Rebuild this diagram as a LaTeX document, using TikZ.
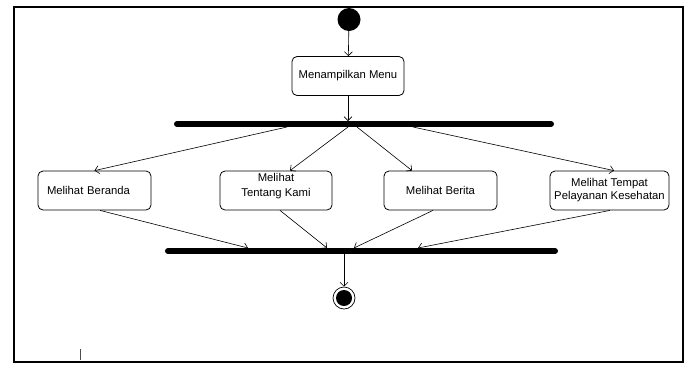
\documentclass[tikz,border=0pt]{standalone}
\usepackage{fontspec}
\setmainfont{Liberation Sans}
\usetikzlibrary{arrows.meta}
\begin{document}
\begin{tikzpicture}[x=1pt,y=-1pt,
  font=\fontsize{11.3}{14}\selectfont,
  actbox/.style={draw, line width=0.8pt, rounded corners=5pt, minimum height=39pt, inner sep=0pt},
  flow/.style={line width=0.6pt, -{Straight Barb[length=4pt,width=8pt]}},
  syncbar/.style={line width=6pt, line cap=round},
  startdot/.style={circle, fill=black, minimum size=23pt, inner sep=0pt},
  enddot/.style={circle, draw, line width=0.7pt, minimum size=22pt, inner sep=0pt,
    path picture={\fill (path picture bounding box.center) circle (8pt);}}
]
\useasboundingbox (0,0) rectangle (688,368);
% outer frame
\draw[line width=2pt] (14,7) rectangle (683,362);

% initial and final states
\node[startdot] (start) at (349,19.5) {};
\node[enddot] (finish) at (344,298) {};

% actions
\node[actbox, minimum width=112pt] (menu) at (348,76) {Menampilkan Menu};
\node[actbox, text width=95pt, align=left, inner xsep=9pt] (beranda) at (94.5,190.5) {Melihat Beranda};
\node[actbox, minimum width=112pt] (tentang) at (276,190.5) {};
\node[align=center, inner sep=0pt] (tentangtext) at ([yshift=4pt]tentang.center) {Melihat\\[1pt]Tentang Kami};
\node[actbox, minimum width=113pt] (berita) at (440.5,190.5) {Melihat Berita};
\node[actbox, minimum width=119pt, align=center] (tempat) at (609.5,190.5) {Melihat Tempat\\[-1pt]Pelayanan Kesehatan};

% fork bar
\coordinate (forkL) at (177,124);
\coordinate (forkR) at (551,124);
\draw[syncbar] (forkL) -- (forkR);
\coordinate (forkIn) at (348,121);
\coordinate (fork1) at (287,127);
\coordinate (fork2) at (348,127);
\coordinate (fork3) at (357,127);
\coordinate (fork4) at (413,127);

% join bar
\coordinate (joinL) at (168,251);
\coordinate (joinR) at (555,251);
\draw[syncbar] (joinL) -- (joinR);
\coordinate (join1) at (248,248);
\coordinate (join2) at (327,248);
\coordinate (join3) at (354,248);
\coordinate (join4) at (418,248);
\coordinate (joinOut) at (344,254);

% control flow
\draw[flow] (start) -- (menu);
\draw[flow] (menu) -- (forkIn);
\draw[flow] (fork1) -- (beranda.north);
\draw[flow] (fork2) -- ([xshift=14pt]tentang.north);
\draw[flow] (fork3) -- ([xshift=-28.5pt]berita.north);
\draw[flow] (fork4) -- ([xshift=4.5pt]tempat.north);
\draw[flow] ([xshift=5.5pt]beranda.south) -- (join1);
\draw[flow] ([xshift=4pt]tentang.south) -- (join2);
\draw[flow] ([xshift=-7.5pt]berita.south) -- (join3);
\draw[flow] ([xshift=0.5pt]tempat.south) -- (join4);
\draw[flow] (joinOut) -- (finish);

% small tick near the lower edge
\coordinate (tickA) at (80,349);
\coordinate (tickB) at (80,360);
\draw[line width=0.8pt, black!70] (tickA) -- (tickB);
\end{tikzpicture}
\end{document}
